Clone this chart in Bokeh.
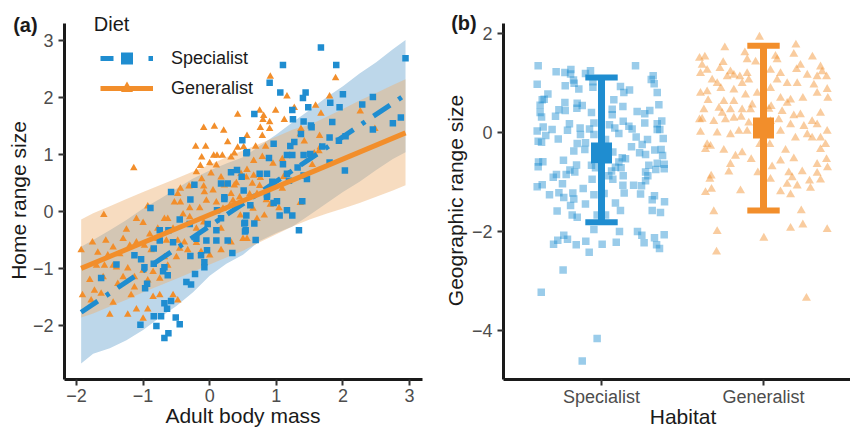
import numpy as np
from bokeh.plotting import figure
from bokeh.models import Range1d, FixedTicker, Legend, LegendItem, ColumnDataSource
from bokeh.layouts import row
from bokeh.embed import file_html
from bokeh.resources import INLINE
from bokeh.core.properties import value

# ---------------- data: panel (a) ----------------
spec_mass = [0.49, 0.41, 0.32, 0.48, -0.23, -0.58, 0.17, 0.27, 0.22,
             1.67, 2.94, 1.10, 1.90, 0.90, 1.06, 1.44, 1.40, 2.00, 1.81, 1.95, 2.29, 2.45, 1.48, 1.24, 0.67,
             1.25, 1.41, 1.52, 1.53, 1.84, 2.87, 2.75, 2.45, 1.37, 1.80, 1.94, 2.04, 0.96, 1.21, 1.27, 1.69,
             1.16, 1.24, 1.41, 1.51, 0.89, 1.10, 1.80, 1.32, 2.03, 0.56, 0.75, 0.86, 1.41, 1.46, 1.16, 1.19,
             0.51, 0.86, 0.94,
             -0.89, -0.45, -0.30, -0.75, -0.62, -0.55, -0.75, -0.84, -1.13, -1.03, -1.40, -0.98, -0.84, -0.70,
             -0.63, -1.63, -0.94, -0.97, -0.68, -0.58, -0.64, -0.84, -0.73, -0.51, -0.45, -1.04, -0.80, -0.62,
             -0.68, -0.29, -0.22, -0.35, -0.28, -0.13, -0.08, -0.08, -0.20, -0.05, 0.10, 0.10, 0.27, 0.34,
             0.22, -0.29, 0.11, 0.17, -0.03, -0.68,
             0.86, 0.61, 1.01, 0.96, 1.39, 0.55, 1.05, 1.16, 1.24, 0.52, 0.67, 0.54, 1.34, 0.69,
             0.55, -0.04, 0.53, 0.53]
spec_home = [1.25, 0.73, 0.69, 0.61, 0.47, 0.34, 0.49, 0.49, 0.25,
             2.88, 2.69, 2.57, 2.57, 2.26, 2.09, 2.09, 1.99, 2.06, 1.91, 1.83, 1.88, 2.01, 1.83, 1.78, 1.71,
             1.62, 1.58, 1.51, 1.48, 1.57, 1.65, 1.55, 1.44, 1.36, 1.30, 1.24, 1.32, 1.19, 1.15, 1.22, 1.14,
             0.99, 0.99, 0.99, 1.01, 0.94, 0.83, 0.86, 0.77, 0.72, 1.04, 0.66, 0.66, 0.63, 0.57, 0.66, 0.54,
             0.37, 0.30, 0.52,
             0.06, -0.14, -0.22, -0.33, -0.33, -0.54, -0.51, -0.65, -0.77, -0.84, -0.93, -0.98, -0.92, -1.05,
             -1.12, -1.17, -1.27, -1.35, -1.61, -1.57, -1.71, -1.84, -1.84, -1.86, -1.98, -1.99, -2.01, -2.14,
             -2.22, -0.78, -1.10, -1.24, -1.28, -0.77, -0.89, -0.98, -0.48, -0.51, -0.33, -0.51, -0.51, -0.73,
             0.22, 0.21, 0.02, -0.12, -0.22, -0.98,
             0.26, 0.11, 0.18, 0.15, 0.18, -0.07, -0.07, 0.02, -0.07, -0.21, -0.21, -0.33, -0.33, -0.50,
             1.02, -0.68, -0.20, -0.35]

gen_mass = [0.42, -0.09, 0.07, 0.21, 0.27, -0.21, -0.06, 0.42, -0.12, 0.06, 0.11, 0.19, 0.32, 0.37, -1.14,
            -0.14, 0.10, 0.00, -0.20, 0.02, 0.17, 0.47, -0.12, -0.26, -0.09, -0.44, -0.31, 0.05, 0.22, 0.37,
            -0.48, -0.08, 0.32,
            0.91, 1.89, 1.16, 1.80, 1.27, 1.59, 0.99, 0.75, 0.81, 1.12, 1.67, 2.26, 0.80, 0.90, 0.76, 0.90,
            1.37, 1.36, 2.48, 0.79, 0.56, 1.65, 1.42, 0.69, 0.84, 1.66, 1.57, 1.64, 0.51, 0.79, 1.09, 0.95,
            1.54, 0.66, 0.56, 0.66, 0.76, 1.11, 0.64, 1.09, 0.71,
            -1.59, -0.93, -1.10, -1.00, -0.68, -0.63, -1.25, -0.78, -0.53, -0.44, -0.30, -0.15, -0.05, 0.10,
            0.35, 0.46, -0.09, -0.20, 0.17, -1.76, -1.56, -1.45, -1.93, -1.68, -1.53, -1.30, -1.10, -0.98,
            -0.88, -0.78, -0.65, -0.48, -0.38, -0.45, -0.33, -0.50, -0.13, 0.00, 0.17, 0.32, -1.58, -1.40,
            -1.23, -1.00, -0.85, -0.63, -0.93, -1.13, -1.38, -1.73, -1.91, -1.63, -1.45, -1.78, -1.18, -0.85,
            -0.75, -0.55, -0.48, -1.50, -1.23, -1.10, -0.93, -1.00, -1.13, -1.30, -0.75, -0.68,
            1.04, 0.82, 0.71, 0.91, 1.36, 0.50, 0.56,
            0.60, 0.75, 0.85, 0.30, 0.45, 0.20, 0.65, 0.55, 0.40, -0.30, -0.55, -0.20, -1.35, -1.60, -1.80,
            -1.70, -1.45, -1.20, -0.90, -0.40]
gen_home = [1.70, 1.47, 1.49, 1.42, 1.22, 1.14, 1.14, 1.12, 0.95, 0.98, 0.98, 0.98, 0.95, 1.02, 0.76,
            0.80, 0.81, 0.85, 0.69, 0.67, 0.60, 0.66, 0.57, 0.46, 0.44, 0.40, 0.44, 0.37, 0.46, 0.46,
            0.31, 0.34, 0.31,
            2.37, 2.34, 2.02, 2.02, 1.82, 1.86, 1.77, 1.77, 1.68, 1.61, 1.72, 1.76, 1.61, 1.57, 1.47, 1.45,
            1.45, 1.36, 1.45, 1.33, 1.33, 1.33, 1.23, 1.14, 1.14, 1.13, 1.02, 1.06, 1.13, 0.96, 0.92, 0.84,
            0.82, 0.89, 0.73, 0.63, 0.59, 0.61, 0.49, 0.40, 0.31,
            -0.06, 0.09, -0.13, -0.20, -0.13, -0.13, -0.32, -0.30, 0.16, 0.16, 0.06, 0.06, 0.19, 0.16,
            0.19, -0.07, -0.19, -0.30, -0.30, -0.54, -0.51, -0.63, -0.68, -0.72, -0.77, -0.48, -0.54, -0.60,
            -0.68, -0.48, -0.51, -0.51, -0.54, -0.65, -0.68, -0.80, -0.71, -0.77, -0.68, -0.54, -0.95, -0.98,
            -1.00, -1.04, -1.06, -0.95, -1.21, -1.33, -1.27, -1.39, -1.47, -1.44, -1.60, -1.56, -1.47, -1.50,
            -1.47, -1.47, -1.56, -1.81, -1.81, -1.72, -1.72, -1.88, -1.15, -1.15, -1.18, -0.80,
            0.06, -0.07, -0.13, 0.12, 0.15, -0.48, -0.48,
            0.30, 0.45, 0.20, 0.10, 0.25, 0.05, 0.05, 0.60, 0.50, -0.10, -0.30, -0.55, -0.75, -1.15, -1.20,
            -0.95, -0.95, -0.60, -0.40, -0.05]

spec_fit_x = [-1.93, 2.94]
spec_fit_y = [-1.77, 2.05]
gen_fit_x = [-1.93, 2.94]
gen_fit_y = [-1.00, 1.38]

band_x = [-1.93, -1.75, -1.5, -1.25, -1.0, -0.75, -0.5, -0.25, 0.0, 0.25, 0.5, 0.75, 1.0, 1.25, 1.5,
          1.75, 2.0, 2.25, 2.5, 2.75, 2.94]
spec_lower = [-2.67, -2.50, -2.40, -2.26, -2.08, -1.86, -1.66, -1.42, -1.13, -0.92, -0.76, -0.52, -0.38,
              -0.26, -0.06, 0.14, 0.34, 0.52, 0.73, 0.92, 1.04]
spec_upper = [-0.62, -0.50, -0.33, -0.15, 0.05, 0.22, 0.40, 0.58, 0.72, 0.84, 0.95, 1.15, 1.35, 1.57,
              1.78, 2.00, 2.20, 2.42, 2.62, 2.85, 3.01]
gen_lower = [-1.86, -1.79, -1.67, -1.55, -1.42, -1.30, -1.18, -1.06, -0.93, -0.81, -0.69, -0.54, -0.40,
             -0.26, -0.14, -0.04, 0.05, 0.15, 0.26, 0.37, 0.46]
gen_upper = [-0.14, -0.03, 0.09, 0.22, 0.34, 0.46, 0.58, 0.70, 0.82, 0.95, 1.07, 1.19, 1.31, 1.44, 1.52,
             1.66, 1.80, 1.95, 2.08, 2.22, 2.32]

# ---------------- data: panel (b) ----------------
habitat_labels = ["Specialist", "Generalist"]
spec_jitter = [-0.391, -0.280, -0.226, -0.189, -0.191, -0.068, -0.099, 0.210, 0.319, 0.307, 0.325, -0.397,
               -0.224, -0.169, -0.140, -0.053, -0.053, 0.117, 0.173, 0.138, 0.344, -0.331, -0.366, -0.379,
               -0.226, -0.150, -0.119, -0.152, -0.263, -0.224, -0.284, -0.379, -0.370, -0.062, 0.076, 0.066,
               0.132, 0.066, 0.220, 0.267, 0.298, 0.354, 0.372, 0.344, 0.344, 0.381, 0.267, 0.134, 0.169,
               0.189, 0.107, 0.049, 0.082, -0.047, -0.074, -0.132, -0.198, -0.210, -0.305, -0.360, -0.397,
               -0.344, -0.267, -0.391, -0.370, -0.130, -0.099, -0.150, -0.171, -0.103, 0.214, 0.284, 0.251,
               0.185, 0.235, 0.272, 0.329, 0.368, 0.377, 0.292, 0.344, 0.387, 0.387, 0.335, 0.272, 0.286,
               0.272, 0.247, 0.198, 0.241, 0.134, 0.132, 0.140, 0.086, 0.117, -0.389, -0.362, -0.391, -0.235,
               -0.154, -0.165, -0.195, -0.218, -0.278, -0.298, -0.241, -0.366, -0.397, -0.321, -0.263, -0.233,
               -0.177, -0.171, -0.191, -0.113, -0.099, -0.047, 0.016, -0.027, 0.025, -0.150, -0.181, -0.274,
               0.086, 0.062, 0.121, 0.070, 0.045, -0.037, -0.062, -0.058, 0.313, 0.327, 0.313, 0.364, 0.389,
               0.148, 0.107, -0.037, -0.037, 0.025, -0.047, 0.070, 0.128, -0.047, 0.111, 0.222, 0.249, 0.327,
               0.387, 0.263, 0.340, 0.358, 0.091, 0.004, -0.097, -0.156, -0.076, -0.233, -0.270, -0.210,
               -0.296, -0.237, -0.372, -0.027, -0.119, 0.360, -0.354, -0.173]
spec_range = [1.347, 1.227, 1.213, 1.273, 1.180, 1.247, 1.193, 1.347, 1.147, 1.073, 0.987, 0.973, 0.947,
              0.993, 0.880, 1.027, 0.913, 0.927, 0.860, 0.807, 0.807, 0.780, 0.660, 0.553, 0.607, 0.593,
              0.547, 0.493, 0.460, 0.447, 0.327, 0.407, 0.313, 0.407, 0.660, 0.473, 0.527, 0.360, 0.427,
              0.380, 0.447, 0.560, 0.233, 0.180, 0.060, -0.120, 0.193, 0.227, 0.127, 0.073, -0.020, 0.160,
              0.093, 0.193, 0.073, 0.093, 0.180, 0.047, 0.060, 0.113, 0.033, -0.060, -0.127, -0.173, -0.193,
              -0.040, -0.207, -0.220, -0.373, -0.340, -0.087, -0.140, -0.240, -0.287, -0.407, -0.440, -0.353,
              -0.340, -0.460, -0.660, -0.620, -0.640, -0.727, -0.747, -0.793, -0.873, -0.973, -1.073, -1.060,
              -1.240, -0.873, -1.060, -1.220, -1.420, -1.573, -0.593, -0.587, -0.687, -0.560, -0.653, -0.793,
              -0.753, -0.847, -0.847, -0.900, -1.033, -1.053, -1.093, -1.253, -1.213, -1.307, -1.220, -1.340,
              -1.473, -1.127, -1.440, -1.253, -1.227, -1.660, -1.660, -1.707, -1.660, -1.580, -0.700, -0.773,
              -0.707, -0.940, -0.873, -0.707, -0.660, -0.940, -1.353, -1.273, -1.573, -1.613, -1.393, -0.527,
              -0.593, -0.287, -0.440, -0.140, -0.040, -0.393, -0.507, -1.953, -1.993, -1.993, -2.073, -2.120,
              -2.060, -2.220, -2.260, -2.340, -2.213, -2.253, -2.193, -2.260, -2.413, -2.073, -2.173, -2.153,
              -2.253, -2.773, -3.220, -4.153, -4.607, 0.060, 0.673, 1.060]

gen_jitter = [-0.025, -0.239, 0.200, -0.115, 0.187, 0.302, -0.395, -0.362, -0.101, -0.049, 0.074, 0.084,
              -0.249, -0.379, -0.348, -0.389, -0.269, -0.204, -0.183, -0.224, -0.146, -0.101, 0.043, 0.105,
              0.204, 0.228, 0.352, 0.362, 0.389, 0.331, 0.270, -0.317, -0.286, -0.132, -0.091, 0.084, 0.146,
              0.208, 0.311, -0.389, -0.348, -0.263, -0.183, -0.111, -0.039, 0.043, 0.105, 0.167, 0.243, 0.331,
              0.393, 0.397, -0.342, -0.245, -0.183, -0.070, 0.047, 0.146, -0.368, -0.275, -0.255, -0.204,
              -0.132, -0.080, 0.033, 0.115, 0.187, 0.228, 0.352, -0.395, -0.379, -0.307, -0.235, -0.183,
              -0.138, -0.091, 0.043, 0.094, 0.167, 0.249, 0.300, 0.331, -0.389, -0.286, -0.204, -0.152,
              -0.101, 0.105, 0.197, 0.270, 0.300, 0.352, 0.393, -0.348, -0.327, -0.358, -0.245, -0.023, 0.039,
              0.136, 0.383, 0.352, -0.173, -0.132, -0.076, 0.105, 0.187, 0.331, 0.389, 0.395, 0.331, -0.204,
              -0.214, -0.035, 0.053, 0.156, 0.239, -0.323, -0.331, 0.043, 0.177, 0.284, 0.352, 0.146, 0.208,
              -0.321, -0.358, -0.142, 0.105, 0.167, 0.290, -0.307, 0.233, -0.286, 0.167, 0.243, 0.393, 0.002,
              -0.290, 0.265]
gen_range = [1.927, 1.713, 1.767, 1.613, 1.580, 1.527, 1.500, 1.527, 1.473, 1.427, 1.540, 1.473, 1.413,
             1.360, 1.260, 1.193, 1.293, 1.227, 1.160, 1.127, 1.127, 1.193, 1.260, 1.193, 1.273, 1.360,
             1.327, 1.227, 1.127, 1.127, 1.160, 1.060, 0.993, 0.993, 1.060, 1.060, 0.993, 0.993, 0.960,
             0.793, 0.827, 0.893, 0.860, 0.760, 0.793, 0.893, 0.693, 0.660, 0.693, 0.793, 0.873, 0.693,
             0.647, 0.627, 0.627, 0.560, 0.527, 0.593, 0.460, 0.493, 0.393, 0.460, 0.460, 0.460, 0.473,
             0.427, 0.340, 0.360, 0.393, 0.260, 0.273, 0.227, 0.260, 0.293, 0.313, 0.193, 0.227, 0.260,
             0.160, 0.127, 0.227, 0.160, 0.007, -0.007, -0.040, 0.027, 0.027, 0.027, -0.107, -0.040, -0.107,
             -0.107, 0.027, -0.240, -0.273, -0.340, -0.353, -0.240, -0.240, -0.353, -0.240, -0.340, -0.473,
             -0.407, -0.540, -0.573, -0.527, -0.640, -0.540, -0.707, -0.820, -0.640, -0.793, -0.807, -0.687,
             -0.807, -0.787, -0.873, -0.940, -0.940, -0.907, -0.973, -0.953, -1.040, -1.073, -1.140, -1.207,
             -1.173, -1.193, -1.253, -1.120, -1.593, -1.573, -1.993, -1.927, -1.860, -1.953, -2.127, -2.407,
             -3.340]

summary_mean = [-0.41, 0.09]
summary_lower = [-1.81, -1.57]
summary_upper = [1.11, 1.75]

# ---------------- styling ----------------
BLUE = "#1F8DD0"
ORANGE = "#F28E2B"
FONT = "Liberation Sans"
TICK_GREY = "#4D4D4D"
TITLE_COL = "#1A1A1A"


def style_axes(p, xticks, yticks, xlabels=None, xstandoff=3):
    for ax in (p.xaxis[0], p.yaxis[0]):
        ax.axis_line_width = 3
        ax.axis_line_color = "#1A1A1A"
        ax.major_tick_line_color = "#333333"
        ax.major_tick_line_width = 2
        ax.major_tick_out = 6
        ax.major_tick_in = 0
        ax.minor_tick_line_color = None
        ax.major_label_text_font = FONT
        ax.major_label_text_font_size = "18px"
        ax.major_label_text_color = TICK_GREY
    p.xaxis[0].ticker = FixedTicker(ticks=xticks)
    p.yaxis[0].ticker = FixedTicker(ticks=yticks)
    if xlabels is None:
        xlabels = {t: str(t).replace("-", "\u2212") for t in xticks}
    p.xaxis[0].major_label_overrides = xlabels
    p.yaxis[0].major_label_overrides = {t: str(t).replace("-", "\u2212") for t in yticks}
    p.xaxis[0].major_label_standoff = xstandoff
    p.yaxis[0].major_label_standoff = 5
    p.grid.visible = False
    p.outline_line_color = None
    p.background_fill_color = "white"
    p.border_fill_color = "white"


def add_text(p, x, y, txt, size, align="left", baseline="alphabetic", angle=0.0, bold=False):
    p.text(x=[x], y=[y], text=[txt], text_font=value(FONT), text_font_size=value(size),
           text_align=align, text_baseline=baseline, angle=angle,
           text_font_style="bold" if bold else "normal", text_color=TITLE_COL, level="overlay")


# ---------------- panel (a) ----------------
p1 = figure(width=430, height=429, output_backend="svg", toolbar_location=None,
            x_range=Range1d(-2.18, 3.195), y_range=Range1d(-2.95, 3.30),
            min_border_left=64, min_border_right=8, min_border_top=22, min_border_bottom=50)
style_axes(p1, [-2, -1, 0, 1, 2, 3], [-2, -1, 0, 1, 2, 3])

p1.varea(x=band_x, y1=spec_lower, y2=spec_upper, fill_color="#BDD7EA")
p1.varea(x=band_x, y1=gen_lower, y2=gen_upper, fill_color=(237, 177, 115), fill_alpha=0.45)

p1.scatter(gen_mass, gen_home, marker="triangle", size=7.5, fill_color=ORANGE, line_color=None)
p1.scatter(spec_mass, spec_home, marker="square", size=6.5, fill_color=BLUE, line_color=None)
p1.line(spec_fit_x, spec_fit_y, line_width=5, line_color=BLUE, line_dash="20 10 4 10")
p1.line(gen_fit_x, gen_fit_y, line_width=5, line_color=ORANGE)

# legend proxies (single point placed far outside the visible ranges)
proxy = ColumnDataSource(dict(x=[100.0], y=[100.0]))
lg_l1 = p1.line("x", "y", source=proxy, line_width=5, line_color=BLUE, line_dash="13 35 5 20")
lg_m1 = p1.scatter("x", "y", source=proxy, marker="square", fill_color=BLUE, line_color=None)
lg_l2 = p1.line("x", "y", source=proxy, line_width=5, line_color=ORANGE)
lg_m2 = p1.scatter("x", "y", source=proxy, marker="triangle", fill_color=ORANGE, line_color=None)

legend = Legend(items=[LegendItem(label="Specialist", renderers=[lg_l1, lg_m1]),
                       LegendItem(label="Generalist", renderers=[lg_l2, lg_m2])],
                location=(36, 276), padding=0, margin=0, spacing=0,
                glyph_width=53, glyph_height=30, label_height=30, label_standoff=18,
                label_text_font=FONT, label_text_font_size="18px", label_text_color=TITLE_COL,
                border_line_color=None, background_fill_alpha=0)
p1.add_layout(legend, "center")

add_text(p1, -1.74, 3.295, "Diet", "20px")
add_text(p1, -2.95, 3.272, "(a)", "20px", bold=True)
add_text(p1, 0.50, -3.580, "Adult body mass", "21px", align="center")
add_text(p1, -2.868, 0.193, "Home range size", "21px", align="center", baseline="middle", angle=np.pi / 2)

# ---------------- panel (b) ----------------
p2 = figure(width=420, height=429, output_backend="svg", toolbar_location=None,
            x_range=Range1d(0.395, 2.537), y_range=Range1d(-4.98, 2.2),
            min_border_left=73, min_border_right=0, min_border_top=23, min_border_bottom=49)
style_axes(p2, [1, 2], [-4, -2, 0, 2], xlabels={1: habitat_labels[0], 2: habitat_labels[1]}, xstandoff=1)

spec_x = [1 + j for j in spec_jitter]
gen_x = [2 + j for j in gen_jitter]
p2.scatter(spec_x, spec_range, marker="square", size=7.5, fill_color=BLUE, fill_alpha=0.45,
           line_color=None)
p2.scatter(gen_x, gen_range, marker="triangle", size=9, fill_color=ORANGE, fill_alpha=0.45,
           line_color=None)

pos = [1, 2]
cols = [BLUE, ORANGE]
p2.segment(x0=pos, y0=summary_lower, x1=pos, y1=summary_upper, line_width=7, line_color=cols)
p2.segment(x0=[c - 0.1 for c in pos], y0=summary_upper, x1=[c + 0.1 for c in pos], y1=summary_upper,
           line_width=6, line_color=cols)
p2.segment(x0=[c - 0.1 for c in pos], y0=summary_lower, x1=[c + 0.1 for c in pos], y1=summary_lower,
           line_width=6, line_color=cols)
p2.scatter(pos, summary_mean, marker="square", size=21, fill_color=cols, line_color=None)

add_text(p2, 0.072, 2.208, "(b)", "20px", bold=True)
add_text(p2, 1.503, -5.724, "Habitat", "21px", align="center")
add_text(p2, 0.100, -1.37, "Geographic range size", "21px", align="center", baseline="middle",
         angle=np.pi / 2)

layout = row(p1, p2)
open("out.html", "w").write(file_html(layout, INLINE))
